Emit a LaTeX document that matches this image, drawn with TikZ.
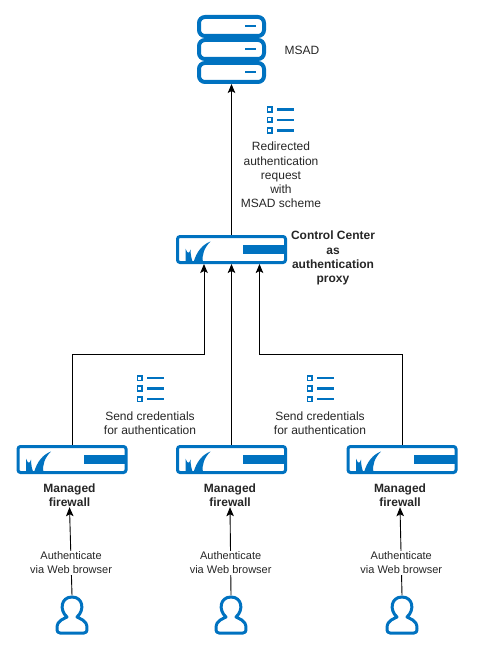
\documentclass[tikz,border=0pt]{standalone}
\usepackage{fontspec}
\setmainfont{Liberation Sans}
\usepackage{xcolor}
\usepackage{tikz}
\usetikzlibrary{arrows.meta}
\definecolor{bnblue}{HTML}{0072C0}

\begin{document}
\begin{tikzpicture}[x=1pt, y=-1pt,
  device/.style={rectangle, draw=bnblue, fill=white, line width=3pt, rounded corners=2.5pt,
                 minimum width=108pt, minimum height=26pt, inner sep=0pt},
  rack/.style={rectangle, draw=bnblue, fill=white, line width=4pt, rounded corners=6pt,
               minimum width=65pt, minimum height=19pt, inner sep=0pt},
  person/.style={minimum width=32pt, minimum height=39pt, inner sep=0pt},
  caption/.style={font=\fontsize{12}{14.2}\selectfont, align=center, text=black!85, inner sep=0pt},
  smallcaption/.style={font=\fontsize{11}{13.5}\selectfont, align=center, text=black!85, inner sep=0pt},
  boldcaption/.style={font=\fontsize{12}{14.2}\selectfont\bfseries, align=center, text=black!85, inner sep=0pt},
  link/.style={line width=0.9pt, -{Stealth[length=9pt, width=7.5pt, inset=2pt]}, color=black},
  firewallmark/.pic={
    \fill[bnblue] (-38,13) .. controls (-35,2) and (-29,-5) .. (-21,-8)
      .. controls (-27,-2) and (-30,5) .. (-28.5,13) -- cycle;
    \fill[bnblue] (-46,-1) .. controls (-44,5) and (-42,4) .. (-41,0)
      .. controls (-41,5) and (-40,10) .. (-38.5,13) -- (-46,13) -- cycle;
    \fill[bnblue] (11.5,-4.5) rectangle (55,4.5);
  },
  listmark/.pic={
    \foreach \yy in {-10.5,0,10.5} {
      \draw[bnblue, line width=1.6pt] (-12.5,\yy-2.3) rectangle (-8,\yy+2.3);
      \draw[bnblue, line width=2.4pt] (-3,\yy) -- (14,\yy);
    }
  },
  usermark/.pic={
    \draw[bnblue, line width=3pt, line join=round] (-5,2)
      .. controls (-13,-5) and (-11,-18) .. (0,-18)
      .. controls (11,-18) and (13,-5) .. (5,2)
      .. controls (8,4) and (15,5) .. (15,13)
      .. controls (15,17) and (14,18) .. (12,18)
      -- (-12,18)
      .. controls (-14,18) and (-15,17) .. (-15,13)
      .. controls (-15,5) and (-8,4) .. (-5,2) -- cycle;
  }]

  \useasboundingbox (0,0) rectangle (480,650);

  %% Directory server
  \node[rack] (R3) at (231.5,72.5) {};
  \node[rack] (R2) at (231.5,49.5) {};
  \node[rack] (R1) at (231.5,26.5) {};
  \foreach \rr in {R1,R2,R3}
    \draw[bnblue, line width=2pt] ([xshift=13.5pt]\rr.center) -- ([xshift=24.5pt]\rr.center);
  \node[caption] (MSAD) at (302,50) {MSAD};

  %% Firewalls
  \node[device] (CC) at (231.5,249.5) {};
  \node[device] (FL) at (72,459.5) {};
  \node[device] (FM) at (231.5,459.5) {};
  \node[device] (FR) at (402,459.5) {};
  \foreach \dd in {CC,FL,FM,FR}
    \pic at (\dd.center) {firewallmark};

  \node[boldcaption] (CClabel) at (333,258) {Control Center\\as\\authentication\\proxy};
  \node[boldcaption] (FLlabel) at (69.5,495.5) {Managed\\firewall};
  \node[boldcaption] (FMlabel) at (230,495.5) {Managed\\firewall};
  \node[boldcaption] (FRlabel) at (400,495.5) {Managed\\firewall};

  %% Users
  \node[person] (UL) at (72,615) {};
  \node[person] (UM) at (231,615) {};
  \node[person] (UR) at (402,615) {};
  \foreach \uu in {UL,UM,UR}
    \pic at (\uu.center) {usermark};

  %% Requests between the devices
  \draw[link] (CC.north) -- (R3.south);
  \draw[link] (FM.north) -- (CC.south);
  \draw[link] (FL.north) |- (204,354) -- (204,264);
  \draw[link] (FR.north) |- (259.5,354) -- (259.5,264);

  \draw[link] (UL.north) -- (FLlabel.south)
    node[smallcaption, pos=0.37, fill=white, inner ysep=1pt] (AL) {Authenticate\\via Web browser};
  \draw[link] (UM.north) -- (FMlabel.south)
    node[smallcaption, pos=0.37, fill=white, inner ysep=1pt] (AM) {Authenticate\\via Web browser};
  \draw[link] (UR.north) -- (FRlabel.south)
    node[smallcaption, pos=0.37, fill=white, inner ysep=1pt] (AR) {Authenticate\\via Web browser};

  %% Scheme lists
  \pic at (280,120) {listmark};
  \pic at (150,388.5) {listmark};
  \pic at (320,388.5) {listmark};
  \node[caption] (RQ) at (281,175) {Redirected\\authentication\\request\\with\\MSAD scheme};
  \node[caption] (SL) at (150,423) {Send credentials\\for authentication};
  \node[caption] (SR) at (320,423) {Send credentials\\for authentication};

\end{tikzpicture}
\end{document}
